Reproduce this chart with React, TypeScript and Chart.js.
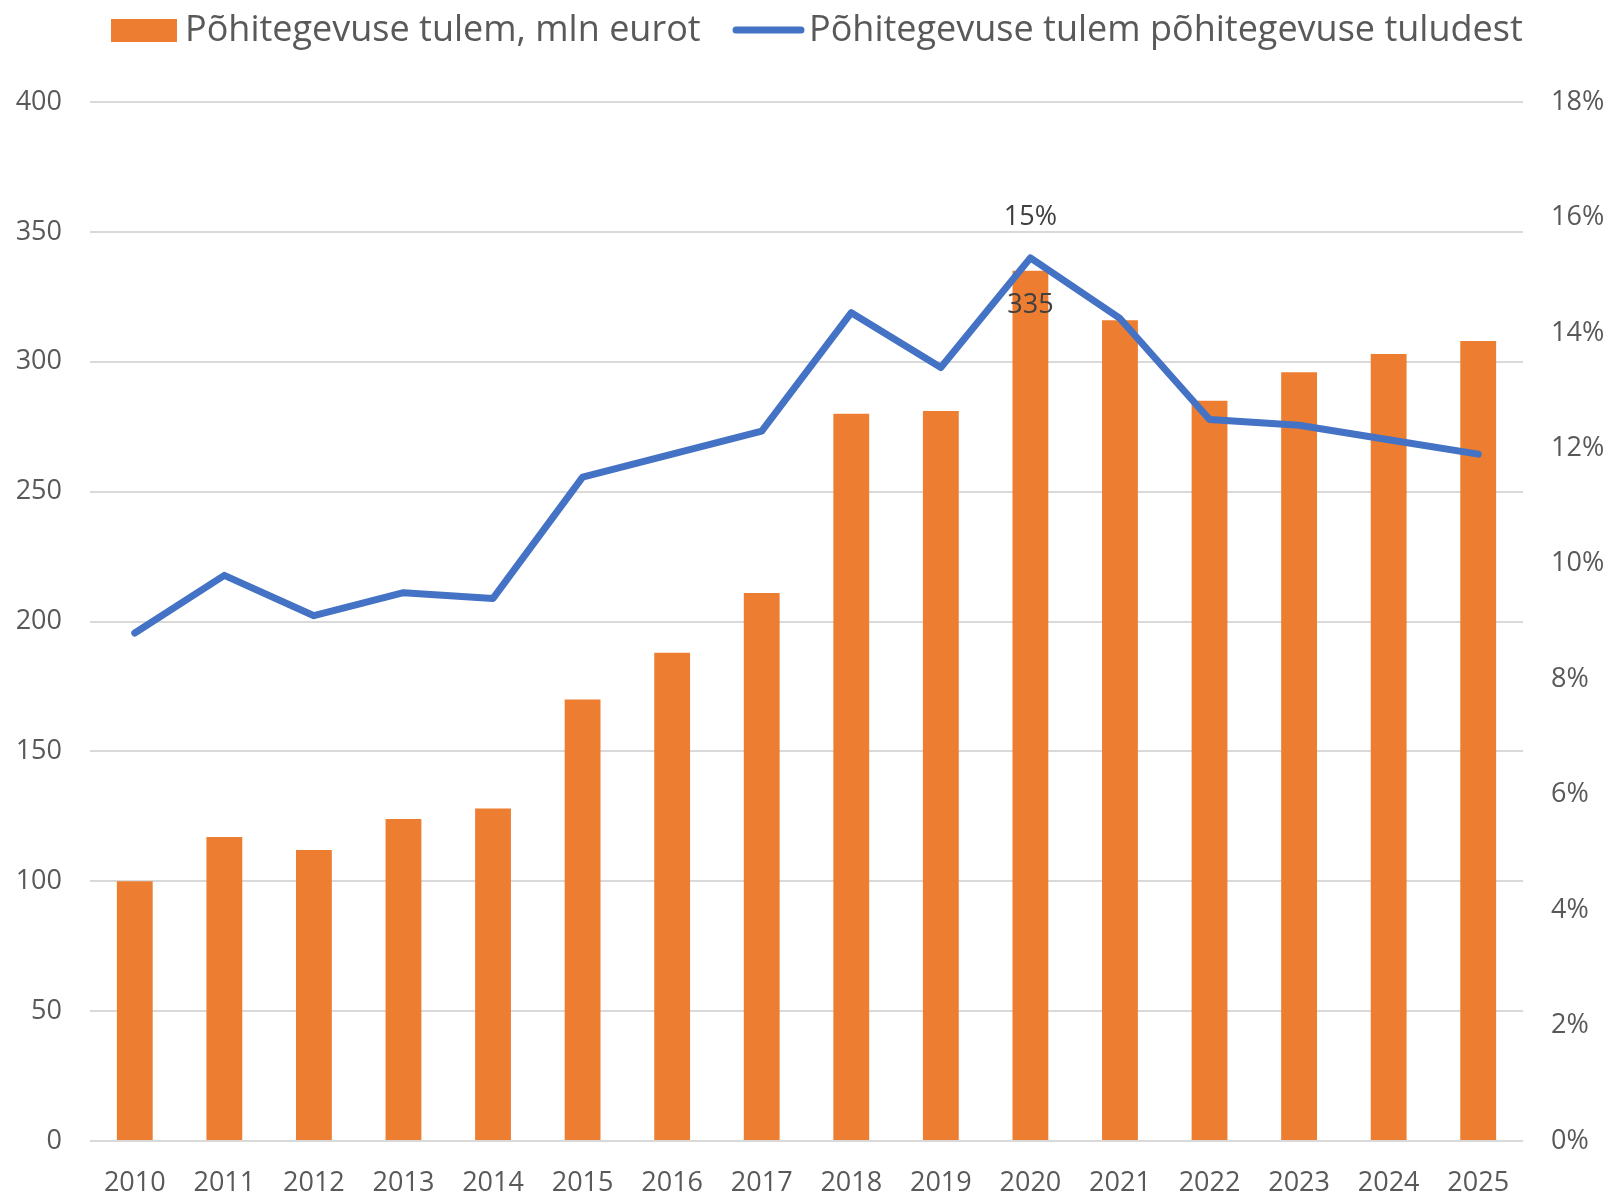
import React, { useEffect, useRef } from "react";
import { Chart, registerables } from "chart.js";

Chart.register(...registerables);

const years = ["2010","2011","2012","2013","2014","2015","2016","2017","2018","2019","2020","2021","2022","2023","2024","2025"];
const operatingResult = [100, 117, 112, 124, 128, 170, 188, 211, 280, 281, 335, 316, 285, 296, 303, 308];
const resultShare = [8.8, 9.8, 9.1, 9.5, 9.4, 11.5, 11.9, 12.3, 14.35, 13.4, 15.3, 14.25, 12.5, 12.4, 12.15, 11.9];
const leftTicks = { min: 0, max: 400, step: 50 };
const rightTicks = { min: 0, max: 18, step: 2 };
const barLabel = "Põhitegevuse tulem, mln eurot";
const lineLabel = "Põhitegevuse tulem põhitegevuse tuludest";
const labelledIndex = 10;

const FONT = "'Open Sans', sans-serif";
const ORANGE = "#ED7D31";
const BLUE = "#4472C4";
const TEXT = "#595959";
const GRID = "#D9D9D9";

const legendPlugin = {
  id: "customLegend",
  afterDraw(chart: any) {
    const ctx = chart.ctx;
    ctx.save();
    ctx.font = `36px ${FONT}`;
    ctx.textBaseline = "middle";
    const y = 30;
    ctx.fillStyle = ORANGE;
    ctx.fillRect(111, 19, 66, 23);
    ctx.fillStyle = TEXT;
    ctx.textAlign = "left";
    ctx.fillText(barLabel, 185, y + 1);
    ctx.strokeStyle = BLUE;
    ctx.lineWidth = 7;
    ctx.lineCap = "round";
    ctx.beginPath();
    ctx.moveTo(736, y);
    ctx.lineTo(801, y);
    ctx.stroke();
    ctx.fillText(lineLabel, 809, y + 1);
    ctx.restore();
  },
};

const valueLabelPlugin = {
  id: "valueLabels",
  afterDatasetsDraw(chart: any) {
    const ctx = chart.ctx;
    const barMeta = chart.getDatasetMeta(0);
    const lineMeta = chart.getDatasetMeta(1);
    ctx.save();
    ctx.font = `27px ${FONT}`;
    ctx.fillStyle = "#404040";
    ctx.textAlign = "center";
    ctx.textBaseline = "middle";
    const bar = barMeta.data[labelledIndex];
    if (bar) ctx.fillText(String(operatingResult[labelledIndex]), bar.x, bar.y + 34);
    const pt = lineMeta.data[labelledIndex];
    if (pt) ctx.fillText(Math.round(resultShare[labelledIndex]) + "%", pt.x, pt.y - 41);
    ctx.restore();
  },
};

export default function App() {
  const ref = useRef<HTMLCanvasElement | null>(null);
  useEffect(() => {
    document.body.style.margin = "0";
    const canvas = ref.current!;
    const chart = new Chart(canvas, {
      data: {
        labels: years,
        datasets: [
          {
            type: "bar",
            label: barLabel,
            data: operatingResult,
            backgroundColor: ORANGE,
            yAxisID: "y",
            barPercentage: 0.4,
            categoryPercentage: 1,
            order: 1,
          },
          {
            type: "line",
            label: lineLabel,
            data: resultShare,
            borderColor: BLUE,
            backgroundColor: BLUE,
            borderWidth: 7,
            pointRadius: 0,
            tension: 0,
            borderJoinStyle: "round",
            borderCapStyle: "round",
            yAxisID: "y1",
            order: 0,
          },
        ],
      } as any,
      options: {
        responsive: false,
        animation: false,
        devicePixelRatio: 1,
        layout: { padding: { top: 102, left: 0, right: 0, bottom: 0 } },
        plugins: {
          legend: { display: false },
          tooltip: { enabled: false },
        },
        scales: {
          x: {
            grid: { display: false, drawTicks: false },
            border: { display: false },
            ticks: { font: { family: FONT, size: 27 }, color: TEXT, padding: 26, maxRotation: 0 },
            afterFit: (s: any) => { s.height = 54; },
          },
          y: {
            position: "left",
            min: leftTicks.min,
            max: leftTicks.max,
            ticks: { stepSize: leftTicks.step, font: { family: FONT, size: 27 }, color: TEXT, padding: 28 },
            grid: { color: GRID, lineWidth: 2, drawTicks: false },
            border: { display: false },
            afterFit: (s: any) => { s.width = 90; },
          },
          y1: {
            position: "right",
            min: rightTicks.min,
            max: rightTicks.max,
            ticks: {
              stepSize: rightTicks.step,
              font: { family: FONT, size: 27 },
              color: TEXT,
              padding: 28,
              callback: (v: any) => v + "%",
            },
            grid: { display: false, drawTicks: false },
            border: { display: false },
            afterFit: (s: any) => { s.width = 87; },
          },
        },
      } as any,
      plugins: [legendPlugin, valueLabelPlugin],
    });
    return () => chart.destroy();
  }, []);
  return (
    <div style={{ position: "absolute", left: 0, top: 0, width: 1610, height: 1195, background: "#fff" }}>
      <canvas ref={ref} width={1610} height={1195} />
    </div>
  );
}
